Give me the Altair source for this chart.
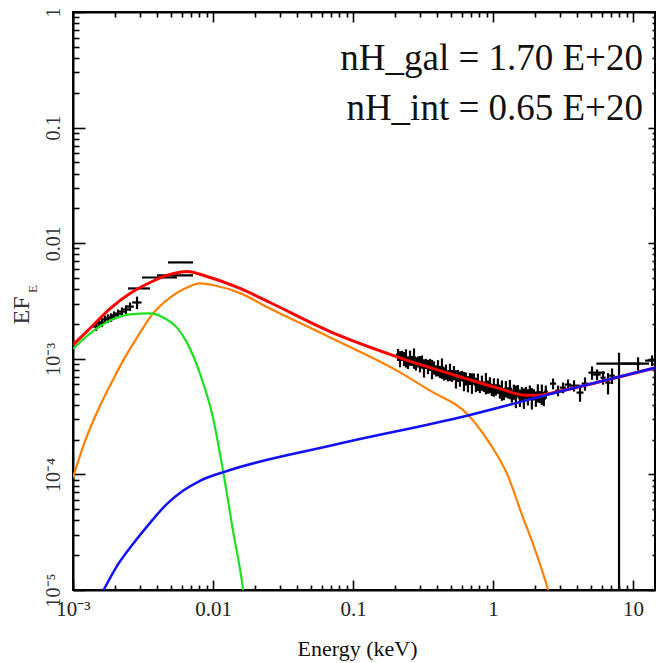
import altair as alt
import pandas as pd

W, H = 582, 578
X_DOMAIN = [1e-3, 14.35]
Y_DOMAIN = [1e-5, 1.0]
SERIF = "Liberation Serif"

# ---------------- model components (energy keV, E*F_E) ----------------
red_E = [1.0e-3, 1.32e-3, 1.84e-3, 2.55e-3, 3.55e-3, 4.93e-3, 6.52e-3, 9.06e-3,
         0.0156, 0.0255, 0.0686, 0.217, 0.611, 1.12, 1.69, 2.17, 2.68, 5.81, 14.6]
red_F = [1.32e-3, 1.83e-3, 2.72e-3, 3.67e-3, 4.57e-3, 5.37e-3, 5.70e-3, 5.15e-3,
         4.06e-3, 3.07e-3, 1.72e-3, 1.02e-3, 6.87e-4, 5.52e-4, 4.85e-4, 4.85e-4, 5.09e-4, 6.34e-4, 8.39e-4]

orange_E = [1.0e-3, 1.22e-3, 1.56e-3, 2.0e-3, 2.28e-3, 2.87e-3, 3.73e-3, 4.93e-3, 6.52e-3,
            8.07e-3, 0.0103, 0.0156, 0.0255, 0.0686, 0.206, 0.355, 0.652, 0.952, 1.26,
            1.64, 1.93, 2.28, 2.55]
orange_F = [9.35e-5, 1.95e-4, 3.93e-4, 7.15e-4, 9.64e-4, 1.53e-3, 2.47e-3, 3.39e-3, 4.14e-3,
            4.49e-3, 4.31e-3, 3.70e-3, 2.72e-3, 1.53e-3, 7.9e-4, 5.30e-4, 3.35e-4, 1.84e-4, 1.01e-4,
            4.21e-5, 2.50e-5, 1.38e-5, 9.0e-6]

green_E = [1.0e-3, 1.32e-3, 1.84e-3, 2.55e-3, 3.55e-3, 4.40e-3, 5.53e-3, 6.52e-3, 8.07e-3,
           0.0100, 0.0118, 0.0139, 0.0164, 0.0178]
green_F = [1.22e-3, 1.65e-3, 2.14e-3, 2.42e-3, 2.47e-3, 2.28e-3, 1.86e-3, 1.38e-3, 7.44e-4,
           3.09e-4, 1.07e-4, 3.24e-5, 1.0e-5, 4.0e-6]

blue_E = [1.64e-3, 2.06e-3, 2.68e-3, 3.55e-3, 4.69e-3, 6.1e-3, 8.07e-3, 0.0126, 0.0686,
          0.652, 3.16, 14.6]
blue_F = [9.8e-6, 1.61e-5, 2.50e-5, 3.81e-5, 5.56e-5, 7.21e-5, 8.81e-5, 1.07e-4, 1.77e-4,
          3.22e-4, 5.30e-4, 8.39e-4]

# ---------------- data: optical / UV ----------------
opt_E = [1.46e-3, 1.534e-3, 1.611e-3, 1.693e-3, 1.778e-3, 1.868e-3, 1.962e-3, 2.096e-3,
         2.239e-3, 2.391e-3, 2.554e-3, 2.866e-3]
opt_Eerr = [1.0e-4, 1.0e-4, 1.1e-4, 1.1e-4, 1.2e-4, 1.2e-4, 1.3e-4, 1.4e-4, 1.5e-4, 1.6e-4, 1.7e-4, 2.2e-4]
opt_F = [1.90e-3, 2.02e-3, 2.06e-3, 2.19e-3, 2.23e-3, 2.28e-3, 2.37e-3, 2.46e-3,
         2.56e-3, 2.67e-3, 2.83e-3, 3.07e-3]
opt_Ferr = [1.6e-4, 1.7e-4, 1.7e-4, 1.8e-4, 1.9e-4, 1.9e-4, 2.0e-4, 2.1e-4,
            2.2e-4, 2.3e-4, 2.4e-4, 3.8e-4]

uv_E = [2.96e-3, 4.15e-3, 5.35e-3, 5.86e-3]
uv_Elo = [2.47e-3, 3.11e-3, 3.98e-3, 4.77e-3]
uv_Ehi = [3.55e-3, 5.53e-3, 7.20e-3, 7.20e-3]
uv_F = [4.06e-3, 5.05e-3, 5.26e-3, 6.82e-3]
uv_Ferr = [0.5e-4, 0.6e-4, 2.5e-4, 0.8e-4]

# ---------------- data: X-ray (dense soft band) ----------------
xr_E = [0.2096, 0.2166, 0.2238, 0.2313, 0.2390, 0.2470, 0.2553, 0.2638, 0.2726, 0.2818,
        0.2912, 0.3009, 0.3110, 0.3213, 0.3321, 0.3432, 0.3546, 0.3665, 0.3787, 0.3914,
        0.4044, 0.4179, 0.4319, 0.4463, 0.4612, 0.4766, 0.4925, 0.5090, 0.5260, 0.5435,
        0.5617, 0.5805, 0.5998, 0.6199, 0.6406, 0.6620, 0.6841, 0.7069, 0.7305, 0.7549,
        0.7801, 0.8062, 0.8331, 0.8609, 0.8896, 0.9193, 0.9500, 0.9817, 1.0145, 1.0484,
        1.0834, 1.1195, 1.1569, 1.1955, 1.2354, 1.2767, 1.3193, 1.3633, 1.4088, 1.4558,
        1.5044, 1.5547, 1.6066, 1.6602, 1.7156, 1.7729, 1.8321, 1.8932, 1.9564, 2.0217,
        2.0892, 2.1589, 2.2310, 2.3055, 2.3824]
xr_F = [1.087e-3, 1.004e-3, 1.066e-3, 1.004e-3, 1.024e-3, 9.27e-4, 1.024e-3, 9.65e-4, 1.024e-3, 9.09e-4,
        9.46e-4, 9.09e-4, 9.46e-4, 8.39e-4, 9.09e-4, 8.56e-4, 8.91e-4, 8.22e-4, 8.39e-4, 7.90e-4,
        8.39e-4, 7.75e-4, 8.39e-4, 7.44e-4, 7.75e-4, 7.15e-4, 7.75e-4, 7.15e-4, 7.59e-4, 6.74e-4,
        7.15e-4, 6.74e-4, 7.15e-4, 6.47e-4, 6.74e-4, 6.10e-4, 6.74e-4, 6.22e-4, 6.74e-4, 5.98e-4,
        6.35e-4, 5.74e-4, 6.22e-4, 5.74e-4, 6.22e-4, 5.74e-4, 5.98e-4, 5.41e-4, 5.74e-4, 5.41e-4,
        5.86e-4, 5.20e-4, 5.41e-4, 4.99e-4, 5.52e-4, 5.10e-4, 5.52e-4, 4.80e-4, 5.20e-4, 4.80e-4,
        5.30e-4, 4.61e-4, 4.99e-4, 4.61e-4, 5.10e-4, 4.70e-4, 5.20e-4, 4.61e-4, 4.90e-4, 4.52e-4,
        5.10e-4, 4.70e-4, 4.99e-4, 4.52e-4, 5.20e-4]
xr_Ferr_frac = [0.12, 0.16, 0.10, 0.14, 0.18, 0.12, 0.15, 0.10, 0.20, 0.13,
                0.11, 0.16, 0.13, 0.18, 0.10, 0.14, 0.12, 0.19, 0.13, 0.11,
                0.16, 0.12, 0.20, 0.13, 0.15, 0.11, 0.17, 0.12, 0.14, 0.18,
                0.12, 0.15, 0.10, 0.19, 0.13, 0.16, 0.12, 0.20, 0.11, 0.14,
                0.17, 0.12, 0.15, 0.10, 0.21, 0.13, 0.16, 0.12, 0.18, 0.11,
                0.15, 0.13, 0.20, 0.12, 0.16, 0.11, 0.19, 0.13, 0.15, 0.22,
                0.12, 0.17, 0.14, 0.20, 0.12, 0.16, 0.13, 0.21, 0.11, 0.15,
                0.18, 0.12, 0.20, 0.14, 0.13]
xr_bin_frac = 0.035

# ---------------- data: X-ray (sparse, hard band) ----------------
hx_E = [2.683, 2.913, 3.162, 3.433, 3.789, 4.183, 4.541, 5.095, 5.534, 6.107, 6.628, 7.079,
        7.943, 10.86, 13.67]
hx_Elo = [2.55, 2.77, 3.00, 3.25, 3.45, 3.95, 4.30, 4.80, 5.20, 5.85, 6.35, 6.75, 5.47, 8.2, 12.2]
hx_Ehi = [2.82, 3.06, 3.32, 3.62, 4.15, 4.43, 4.80, 6.30, 5.88, 6.38, 6.92, 7.42, 11.3, 13.0, 15.5]
hx_F = [6.10e-4, 5.30e-4, 5.63e-4, 5.98e-4, 5.86e-4, 5.10e-4, 6.10e-4, 7.59e-4, 7.30e-4, 6.87e-4,
        6.22e-4, 7.15e-4, 9.09e-4, 9.09e-4, 9.65e-4]
hx_Flo = [5.45e-4, 4.75e-4, 5.03e-4, 5.33e-4, 5.21e-4, 4.25e-4, 5.30e-4, 6.59e-4, 6.50e-4, 5.97e-4,
          4.92e-4, 6.05e-4, 1.0e-6, 7.9e-4, 8.65e-4]
hx_Fhi = [6.75e-4, 5.85e-4, 6.23e-4, 6.63e-4, 6.51e-4, 5.95e-4, 6.90e-4, 8.59e-4, 8.10e-4, 7.77e-4,
          7.52e-4, 8.25e-4, 1.13e-3, 1.03e-3, 1.07e-3]

ann_lines = ["nH_gal = 1.70 E+20", "nH_int = 0.65 E+20"]

x_major = [1e-3, 1e-2, 1e-1, 1.0, 10.0]
y_major = [1e-5, 1e-4, 1e-3, 1e-2, 1e-1, 1.0]
x_minor = [m * 10.0 ** k for k in range(-3, 2) for m in range(2, 10) if m * 10.0 ** k < 14.3]
y_minor = [m * 10.0 ** k for k in range(-5, 0) for m in range(2, 10)]
x_ticks = x_major + x_minor
y_ticks = y_major + y_minor

# ---------------- build tables ----------------
rows = []
for e, de, f, df in zip(opt_E, opt_Eerr, opt_F, opt_Ferr):
    rows.append(dict(E=e, Elo=e - de, Ehi=e + de, F=f, Flo=f - df, Fhi=f + df))
for e, lo, hi, f, df in zip(uv_E, uv_Elo, uv_Ehi, uv_F, uv_Ferr):
    rows.append(dict(E=e, Elo=lo, Ehi=hi, F=f, Flo=f - df, Fhi=f + df))
for e, f, fr in zip(xr_E, xr_F, xr_Ferr_frac):
    rows.append(dict(E=e, Elo=e * (1 - xr_bin_frac), Ehi=e * (1 + xr_bin_frac),
                     F=f, Flo=f * (1 - fr), Fhi=f * (1 + fr)))
for e, lo, hi, f, flo, fhi in zip(hx_E, hx_Elo, hx_Ehi, hx_F, hx_Flo, hx_Fhi):
    rows.append(dict(E=e, Elo=lo, Ehi=hi, F=f, Flo=flo, Fhi=fhi))
pts = pd.DataFrame(rows)

xs = alt.Scale(type="log", domain=X_DOMAIN, nice=False)
ys = alt.Scale(type="log", domain=Y_DOMAIN, nice=False)

IS_MAJOR = "(abs(log(datum.value)/LN10 - round(log(datum.value)/LN10)) < 0.01)"


def inward(big, small):
    # negative tick size = ticks drawn into the plot area
    return alt.ExprRef(f"{IS_MAJOR} ? {-big} : {-small}")


AX_X = alt.Axis(
    orient="bottom", values=x_ticks, grid=False, ticks=True, tickSize=inward(10, 5),
    tickColor="black", tickWidth=1.6, domain=True, domainColor="black", domainWidth=2,
    labelExpr=f"{IS_MAJOR} ? (datum.value < 0.002 ? '10⁻³' : datum.value < 0.02 ? '0.01' : datum.value < 0.2 ? '0.1' : datum.value < 2 ? '1' : '10') : ''",
    labelFont=SERIF, labelFontSize=21, labelColor="#222", labelPadding=18,
    labelFlush=False, labelOverlap=False,
    title="Energy (keV)", titleFont=SERIF, titleFontSize=22, titleFontWeight="normal",
    titleColor="#111", titleX=284, titleY=65, titleBaseline="alphabetic", titleAlign="center")

AX_Y = alt.Axis(
    orient="left", values=y_ticks, grid=False, ticks=True, tickSize=inward(12, 6),
    tickColor="black", tickWidth=1.6, domain=True, domainColor="black", domainWidth=2,
    labelExpr=f"{IS_MAJOR} ? (datum.value < 2e-5 ? '10⁻⁵' : datum.value < 2e-4 ? '10⁻⁴' : datum.value < 2e-3 ? '10⁻³' : datum.value < 0.02 ? '0.01' : datum.value < 0.2 ? '0.1' : '1') : ''",
    labelFont=SERIF, labelFontSize=20, labelColor="#333", labelPadding=22,
    labelAngle=270, labelAlign="center", labelBaseline="bottom",
    labelFlush=False, labelOverlap=False,
    title="EF", titleFont=SERIF, titleFontSize=24, titleFontWeight="normal", titleColor="#333",
    titleAngle=270, titleX=-40, titleY=298, titleAlign="center", titleBaseline="bottom")

AX_TOP = alt.Axis(
    orient="top", values=x_ticks, grid=False, labels=False, title=None,
    ticks=True, tickSize=inward(10, 5), tickColor="black", tickWidth=1.6,
    domain=True, domainColor="black", domainWidth=2)

AX_RIGHT = alt.Axis(
    orient="right", values=y_ticks, grid=False, labels=False, title=None,
    ticks=True, tickSize=inward(7, 3), tickColor="black", tickWidth=1.6,
    domain=True, domainColor="black", domainWidth=2)

# error bars (the horizontal set also carries the top/right axes)
h_err = alt.Chart(pts).mark_rule(color="black", strokeWidth=2.2, clip=True).encode(
    x=alt.X("Elo:Q", scale=xs, axis=AX_TOP),
    x2="Ehi:Q",
    y=alt.Y("F:Q", scale=ys, axis=AX_RIGHT),
)
v_err = alt.Chart(pts).mark_rule(color="black", strokeWidth=2.2, clip=True).encode(
    x=alt.X("E:Q", scale=xs, axis=None),
    y=alt.Y("Flo:Q", scale=ys, axis=None),
    y2="Fhi:Q",
)


def curve(E, F, color, width, axx=None, axy=None):
    df = pd.DataFrame({"E": E, "F": F})
    return alt.Chart(df).mark_line(color=color, strokeWidth=width, clip=True,
                                   interpolate="monotone").encode(
        x=alt.X("E:Q", scale=xs, axis=axx),
        y=alt.Y("F:Q", scale=ys, axis=axy),
    )


orange = curve(orange_E, orange_F, "#ff8000", 2.2, AX_X, AX_Y)
green = curve(green_E, green_F, "#1fe01f", 2.2)
red = curve(red_E, red_F, "#ff0000", 3)
blue = curve(blue_E, blue_F, "#1010ff", 2.5)

ann = alt.Chart(pd.DataFrame({"t": ["\n".join(ann_lines)]})).mark_text(
    align="right", baseline="alphabetic", font=SERIF, fontSize=37, lineHeight=50,
    lineBreak="\n", color="#111",
).encode(x=alt.value(570), y=alt.value(58), text="t:N")

sub = alt.Chart(pd.DataFrame({"t": ["E"]})).mark_text(
    angle=270, align="center", baseline="alphabetic", font=SERIF, fontSize=13, color="#333",
).encode(x=alt.value(-36), y=alt.value(277), text="t:N")

chart = alt.layer(
    h_err, v_err, orange, green, red, blue, ann, sub
).resolve_axis(
    x="independent", y="independent"
).properties(
    width=W, height=H,
    autosize=alt.AutoSizeParams(type="none"),
    padding={"left": 73, "top": 12, "right": 1, "bottom": 73},
).configure_view(stroke="black", strokeWidth=2)

chart.save("out.html", embed_options={"renderer": "svg", "actions": False})
